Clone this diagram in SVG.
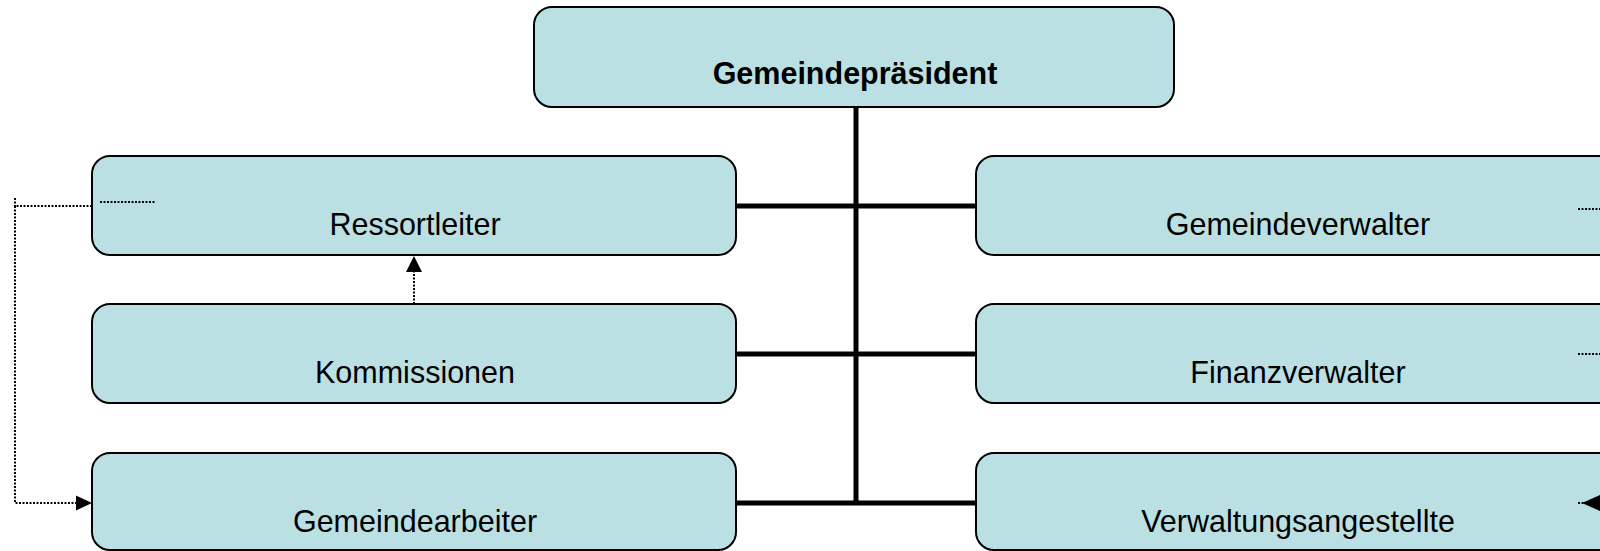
<svg xmlns="http://www.w3.org/2000/svg" width="1600" height="551" viewBox="0 0 1600 551">
<defs>
<style>
.box{fill:#BBE0E3;stroke:#000;stroke-width:2}
.t{font-family:"Liberation Sans",Arial,sans-serif;font-size:30.5px;fill:#000;text-anchor:middle}
.b{font-weight:bold}
.solid{stroke:#000;stroke-width:5;fill:none}
.dot{stroke:#000;stroke-width:2;stroke-dasharray:2 1.5;fill:none}
</style>
</defs>
<rect width="1600" height="551" fill="#fff"/>
<g id="connectors">
<line class="solid" x1="856" y1="107" x2="856" y2="505"/>
<line class="solid" x1="736" y1="206" x2="976" y2="206"/>
<line class="solid" x1="736" y1="354" x2="976" y2="354"/>
<line class="solid" x1="736" y1="503" x2="976" y2="503"/>
<polyline class="dot" points="92,206 15,206 15,503 78,503"/>
<line class="dot" x1="15" y1="198" x2="15" y2="206"/>
<path d="M92,503 L76,495.5 L76,510.5 z" fill="#000"/>
<line class="dot" x1="414" y1="304" x2="414" y2="270"/>
<path d="M414,256 L406,272 L422,272 z" fill="#000"/>
</g>
<g id="n-praesident">
<rect class="box" x="534" y="7" width="640" height="100" rx="18"/>
<text class="t b" x="855" y="84">Gemeindepräsident</text>
</g>
<g id="n-ressortleiter">
<rect class="box" x="92" y="156" width="644" height="99" rx="18"/>
<text class="t" x="415" y="235">Ressortleiter</text>
<line class="dot" x1="100" y1="202" x2="155" y2="202"/>
</g>
<g id="n-kommissionen">
<rect class="box" x="92" y="304" width="644" height="99" rx="18"/>
<text class="t" x="415" y="383">Kommissionen</text>
</g>
<g id="n-gemeindearbeiter">
<rect class="box" x="92" y="453" width="644" height="97" rx="18"/>
<text class="t" x="415" y="532">Gemeindearbeiter</text>
</g>
<g id="n-gemeindeverwalter">
<rect class="box" x="976" y="156" width="660" height="99" rx="18"/>
<text class="t" x="1298" y="235">Gemeindeverwalter</text>
<line class="dot" x1="1578" y1="209" x2="1600" y2="209"/>
</g>
<g id="n-finanzverwalter">
<rect class="box" x="976" y="304" width="660" height="99" rx="18"/>
<text class="t" x="1298" y="383">Finanzverwalter</text>
<line class="dot" x1="1578" y1="354" x2="1600" y2="354"/>
</g>
<g id="n-verwaltungsangestellte">
<rect class="box" x="976" y="453" width="660" height="97" rx="18"/>
<text class="t" x="1298" y="532">Verwaltungsangestellte</text>
<line class="dot" x1="1578" y1="503" x2="1584" y2="503"/>
<path d="M1582,503 L1600,495 L1600,511 z" fill="#000"/>
</g>
</svg>
